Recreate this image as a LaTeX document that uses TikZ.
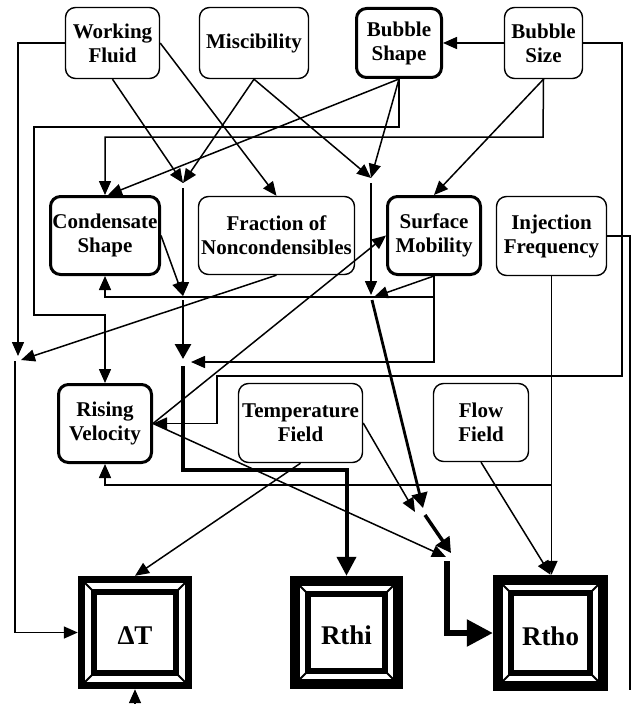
\documentclass[tikz,border=0pt]{standalone}
\usepackage{fontspec}
\setmainfont{Liberation Serif}
\usetikzlibrary{arrows.meta,calc}

% framed result block: name, x1, y1, x2, y2, outer, gap, label
\newcommand\resultblock[8]{%
  \fill[black] (#2,#3) rectangle (#4,#5);
  \fill[white] ({#2+#6},{#3+#6}) rectangle ({#4-#6},{#5-#6});
  \fill[black] ({#2+#6+#7},{#3+#6+#7}) rectangle ({#4-#6-#7},{#5-#6-#7});
  \fill[white] ({#2+#6+#7+6},{#3+#6+#7+6}) rectangle ({#4-#6-#7-6},{#5-#6-#7-6});
  \draw[line width=1.8pt] ({#2+#6},{#3+#6}) -- ({#2+#6+#7+6},{#3+#6+#7+6});
  \draw[line width=1.8pt] ({#4-#6},{#3+#6}) -- ({#4-#6-#7-6},{#3+#6+#7+6});
  \draw[line width=1.8pt] ({#2+#6},{#5-#6}) -- ({#2+#6+#7+6},{#5-#6-#7-6});
  \draw[line width=1.8pt] ({#4-#6},{#5-#6}) -- ({#4-#6-#7-6},{#5-#6-#7-6});
  \node[inner sep=0pt, minimum width={#4pt-#2pt}, minimum height={#5pt-#3pt}]
    (#1) at ({(#2+#4)/2},{(#3+#5)/2}) {};
  \node[bigtext] (#1-label) at ($(#1.center)+(0,3)$) {#8};
}

\begin{document}
\begin{tikzpicture}[x=1pt, y=-1pt,
  box/.style={draw, rounded corners=10pt, line width=1.4pt, align=center,
    font=\bfseries\fontsize{21}{24}\selectfont, inner sep=0pt, fill=white},
  heavybox/.style={box, line width=3pt},
  bigtext/.style={inner sep=0pt, font=\bfseries\fontsize{27}{30}\selectfont},
  conn/.style={line width=1.5pt, -{Triangle[length=14pt,width=12pt]}},
  thickconn/.style={line width=2.8pt, -{Triangle[length=15pt,width=16pt]}},
  heavyconn/.style={line width=4pt, -{Triangle[length=19pt,width=19pt]}},
  mainconn/.style={line width=5.5pt, -{Triangle[length=26pt,width=26pt]}},
  plain/.style={line width=1.5pt}]

\fill[white] (0,0) rectangle (631,706);
\useasboundingbox (0,0) rectangle (631,706);

% ---- factor boxes ----
\node[box, minimum width=94pt, minimum height=71pt] (wf) at (112.5,43) {Working\\Fluid};
\node[box, minimum width=109pt, minimum height=71pt] (misc) at (254,43) {Miscibility};
\node[heavybox, minimum width=85pt, minimum height=69pt] (bs) at (399,43) {Bubble\\Shape};
\node[box, minimum width=78pt, minimum height=71pt] (bsz) at (543.5,43) {Bubble\\Size};

\node[heavybox, minimum width=109pt, minimum height=78pt] (cs) at (105,235.5) {Condensate\\Shape};
\node[box, minimum width=156pt, minimum height=78pt] (fnc) at (276.5,235.5) {Fraction of\\Noncondensibles};
\node[heavybox, minimum width=93pt, minimum height=78pt] (sm) at (434,235.5) {Surface\\Mobility};
\node[box, minimum width=110pt, minimum height=79pt] (inj) at (551.5,236) {Injection\\Frequency};

\node[heavybox, minimum width=93pt, minimum height=78pt] (rv) at (105,423.5) {Rising\\Velocity};
\node[box, minimum width=124pt, minimum height=79pt] (tf) at (300.5,423) {Temperature\\Field};
\node[box, minimum width=95pt, minimum height=78pt] (ff) at (481,422.5) {Flow\\Field};

% ---- result blocks ----
\resultblock{dT}{78}{576}{192}{689}{7}{6}{ΔT}
\resultblock{rthi}{290}{576}{403}{689}{10}{5}{Rthi}
\resultblock{rtho}{493}{575}{608}{691}{10}{5}{Rtho}

% ---- junction points ----
\coordinate (j1) at (18,356);
\coordinate (j1b) at (21,360);
\coordinate (j1o) at (15,361);
\coordinate (j2) at (183,183);
\coordinate (j2o) at (183,188);
\coordinate (j3) at (371,178);
\coordinate (j3o) at (371,183);
\coordinate (j4) at (183,296);
\coordinate (j4o) at (183,300);
\coordinate (j5) at (183,359);
\coordinate (j5r) at (191,362);
\coordinate (j5o) at (183,366);
\coordinate (j6) at (371,295);
\coordinate (j6r) at (374,297);
\coordinate (j6o) at (372,300);
\coordinate (j7) at (423,508);
\coordinate (j7l) at (415,512);
\coordinate (j7o) at (425,515);
\coordinate (j8) at (451,553);
\coordinate (j8l) at (446,557);
\coordinate (j8o) at (447,561);
\coordinate (injend) at (630,690);
\coordinate (dtb) at (135,704);

% ---- links from the top row ----
\draw[conn] (wf.west) -| (j1);
\draw[conn] (wf.south) -- (j2);
\draw[conn] (wf.east) -- (fnc.north);
\draw[conn] (misc.south) -- (j2);
\draw[conn] (misc.south) -- (j3);
\draw[conn] (bs.south) -- (j3);
\draw[conn] (bs.south) -- ([xshift=3pt]cs.north);
\draw[conn] (bs.south) -- (399,127) -- (34,127) -- (34,315) -| (rv.north);
\draw[conn] (bsz.west) -- (bs.east);
\draw[conn] (bsz.south) -- (543,137) -| (cs.north);
\draw[conn] (bsz.south) -- (sm.north);
\draw[conn] (bsz.east) -- (622,43) -- (622,376) -- (217,376) |- (rv.east);

% ---- links from the middle row ----
\draw[conn] (fnc.south) -- (j1b);
\draw[conn] (j1o) |- (dT.west);
\draw[conn] (j2o) -- (j4);
\draw[conn] (cs.east) -- (j4);
\draw[thickconn] (j4o) -- (j5);
\draw[heavyconn] (j5o) -- (183,470) -| (rthi.north);
\draw[conn] (j3o) -- (j6);
\draw[conn] (sm.south) -- (j6r);
\draw[conn] (sm.south) -- (434,297) -| (cs.south);
\draw[conn] (sm.south) |- (j5r);
\draw[plain] (inj.east) -- (630,236) -- (injend);
\draw[conn] (inj.south) -- (inj.south |- rtho.north);
\draw[conn] (inj.south) -- (551.5,485) -| (rv.south);

% ---- links from the lower row ----
\draw[conn] (rv.east) -- (sm.west);
\draw[conn] (rv.east) -- (j8l);
\draw[conn] (tf.south) -- (dT.north);
\draw[conn] (tf.east) -- (j7l);
\draw[conn] (ff.south) -- (rtho.north);
\draw[thickconn] (j6o) -- (j7);
\draw[thickconn, line width=3.5pt] (j7o) -- (j8);
\draw[mainconn] (j8o) |- (rtho.west);
\draw[conn] (dtb) -- (dT.south);
\end{tikzpicture}
\end{document}
